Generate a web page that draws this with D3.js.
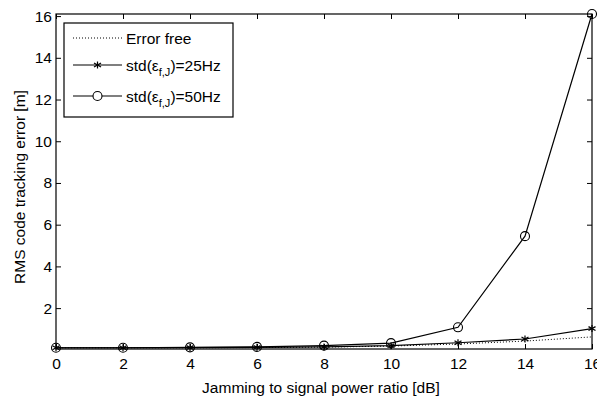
<!DOCTYPE html>
<html>
<head>
<meta charset="utf-8">
<script src="https://cdn.jsdelivr.net/npm/d3@7"></script>
<style>
  body { margin: 0; background: #fff; }
  text { font-family: "Liberation Sans", Arial, sans-serif; }
</style>
</head>
<body>
<div id="chart"></div>
<script>
var jsr = [0, 2, 4, 6, 8, 10, 12, 14, 16];
var errorFree = [0.1, 0.1, 0.1, 0.11, 0.13, 0.18, 0.28, 0.42, 0.62];
var std25 = [0.1, 0.1, 0.11, 0.12, 0.14, 0.2, 0.34, 0.52, 1.02];
var std50 = [0.1, 0.1, 0.12, 0.14, 0.2, 0.32, 1.08, 5.45, 16.1];
var xTicks = [0, 2, 4, 6, 8, 10, 12, 14, 16];
var yTicks = [2, 4, 6, 8, 10, 12, 14, 16];

var width = 597, height = 400;
var margin = {left: 56, right: 5, top: 14, bottom: 51};
var fontSize = 15.5;

var svg = d3.select('#chart').append('svg')
    .attr('width', width)
    .attr('height', height);

var x = d3.scaleLinear().domain([0, 16]).range([margin.left, width - margin.right]);
var y = d3.scaleLinear().domain([0.04, 16.1]).range([height - margin.bottom, margin.top]);

// axes box
svg.append('rect')
    .attr('x', x(0)).attr('y', y(16.1))
    .attr('width', x(16) - x(0)).attr('height', y(0.04) - y(16.1))
    .attr('fill', '#fff').attr('stroke', '#000').attr('stroke-width', 1.2);

var xAxis = d3.axisBottom(x).tickValues(xTicks).tickSizeInner(-5).tickSizeOuter(0).tickPadding(9);
var yAxis = d3.axisLeft(y).tickValues(yTicks).tickSizeInner(-5).tickSizeOuter(0).tickPadding(4);

function styleAxis(g) {
    g.select('.domain').remove();
    g.selectAll('line').attr('stroke', '#000');
    g.selectAll('text').attr('font-size', fontSize).attr('fill', '#000');
}

svg.append('g').attr('transform', 'translate(0,' + y(0.04) + ')').call(xAxis).call(styleAxis);
svg.append('g').attr('transform', 'translate(' + x(0) + ',0)').call(yAxis).call(styleAxis);
// top and right ticks
svg.append('g').attr('transform', 'translate(0,' + y(16.1) + ')')
    .call(d3.axisTop(x).tickValues(xTicks).tickSizeInner(-5).tickSizeOuter(0).tickFormat(''))
    .call(styleAxis);
svg.append('g').attr('transform', 'translate(' + x(16) + ',0)')
    .call(d3.axisRight(y).tickValues(yTicks).tickSizeInner(-5).tickSizeOuter(0).tickFormat(''))
    .call(styleAxis);

var line = d3.line().x(function (d) { return x(d[0]); }).y(function (d) { return y(d[1]); });

function pairs(vals) {
    return jsr.map(function (v, i) { return [v, vals[i]]; });
}

svg.append('path').datum(pairs(errorFree)).attr('d', line)
    .attr('fill', 'none').attr('stroke', '#000').attr('stroke-width', 1).attr('stroke-dasharray', '1,2');
svg.append('path').datum(pairs(std25)).attr('d', line)
    .attr('fill', 'none').attr('stroke', '#000').attr('stroke-width', 1.2);
svg.append('path').datum(pairs(std50)).attr('d', line)
    .attr('fill', 'none').attr('stroke', '#000').attr('stroke-width', 1.2);

function drawStar(g, cx, cy) {
    var s = 3.5;
    [[0, -s, 0, s], [-s, -s * 0.55, s, s * 0.55], [-s, s * 0.55, s, -s * 0.55]].forEach(function (l) {
        g.append('line').attr('x1', cx + l[0]).attr('y1', cy + l[1]).attr('x2', cx + l[2]).attr('y2', cy + l[3])
            .attr('stroke', '#000').attr('stroke-width', 1.2);
    });
}

var starG = svg.append('g');
pairs(std25).forEach(function (d) { drawStar(starG, x(d[0]), y(d[1])); });

svg.append('g').selectAll('circle').data(pairs(std50)).enter().append('circle')
    .attr('cx', function (d) { return x(d[0]); })
    .attr('cy', function (d) { return y(d[1]); })
    .attr('r', 4.5).attr('fill', 'none').attr('stroke', '#000').attr('stroke-width', 1.1);

// legend
var lg = svg.append('g');
lg.append('rect').attr('x', 64).attr('y', 23).attr('width', 169).attr('height', 94)
    .attr('fill', '#fff').attr('stroke', '#000').attr('stroke-width', 1.2);

var legendRows = [
    {label: 'Error free', dash: '1,2', mark: null, ly: 38},
    {label: '25Hz', dash: null, mark: 'star', ly: 65},
    {label: '50Hz', dash: null, mark: 'circle', ly: 96}
];
legendRows.forEach(function (r) {
    lg.append('line').attr('x1', 73).attr('x2', 122).attr('y1', r.ly).attr('y2', r.ly)
        .attr('stroke', '#000').attr('stroke-width', r.dash ? 1 : 1.2)
        .attr('stroke-dasharray', r.dash);
    if (r.mark === 'star') drawStar(lg, 97.5, r.ly);
    if (r.mark === 'circle') {
        lg.append('circle').attr('cx', 97.5).attr('cy', r.ly).attr('r', 4.5)
            .attr('fill', '#fff').attr('stroke', '#000').attr('stroke-width', 1.1);
    }
    var t = lg.append('text').attr('x', 126).attr('y', r.ly + 5.5).attr('font-size', fontSize).attr('fill', '#000');
    if (r.mark === null) {
        t.text(r.label);
    } else {
        t.append('tspan').text('std(\u03b5');
        t.append('tspan').attr('font-size', 11).attr('dy', 5).text('f,J');
        t.append('tspan').attr('dy', -5).text(')=' + r.label);
    }
});

// axis labels
svg.append('text').attr('x', 321).attr('y', 393).attr('text-anchor', 'middle')
    .attr('font-size', fontSize).text('Jamming to signal power ratio [dB]');
svg.append('text').attr('transform', 'translate(25,187) rotate(-90)')
    .attr('text-anchor', 'middle').attr('font-size', fontSize).text('RMS code tracking error [m]');
</script>
</body>
</html>
